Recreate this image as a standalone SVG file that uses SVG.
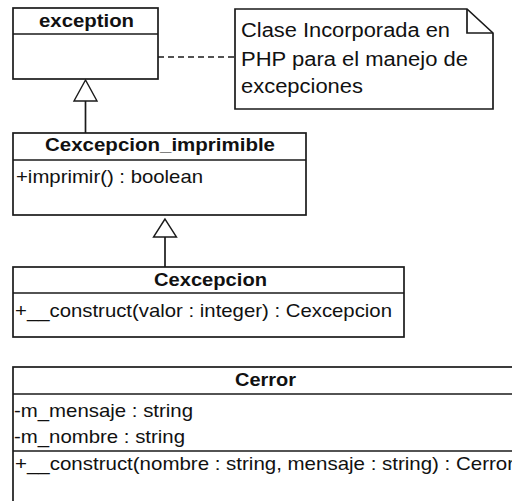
<svg xmlns="http://www.w3.org/2000/svg" width="512" height="501" viewBox="0 0 512 501">
  <style>
    .box { fill: #ffffff; stroke: #1a1a1a; stroke-width: 1.7; }
    .line { fill: none; stroke: #1a1a1a; stroke-width: 1.7; }
    .dash { fill: none; stroke: #1a1a1a; stroke-width: 1.4; stroke-dasharray: 6 4; }
    .head { fill: #ffffff; stroke: #1a1a1a; stroke-width: 1.4; }
    .title { font-family: "Liberation Sans", Arial, sans-serif; font-weight: bold; font-size: 19px; fill: #111; }
    .member { font-family: "Liberation Sans", Arial, sans-serif; font-size: 19px; fill: #111; }
    .note { font-family: "Liberation Sans", Arial, sans-serif; font-size: 19.5px; fill: #111; }
  </style>
  <rect width="512" height="501" fill="#ffffff"/>

  <!-- connectors: generalizations and note anchor -->
  <g id="connectors">
    <line class="dash" x1="158" y1="57" x2="235" y2="57"/>
    <line class="line" x1="85.5" y1="101" x2="85.5" y2="133"/>
    <polygon class="head" points="85.5,80 74,101 97,101"/>
    <line class="line" x1="165" y1="237" x2="165" y2="267"/>
    <polygon class="head" points="165,219 153.5,237 176.5,237"/>
  </g>

  <g id="exception">
    <rect class="box" x="13" y="8" width="145" height="71"/>
    <line class="line" x1="13" y1="34" x2="158" y2="34"/>
    <text class="title" x="39" y="27" textLength="95" lengthAdjust="spacingAndGlyphs">exception</text>
  </g>

  <g id="note">
    <path class="box" d="M235,9 H467 L493,33 V109 H235 Z"/>
    <path class="line" d="M467,9 V33 H493" stroke-width="1.4"/>
    <text class="note" x="241" y="37" textLength="209" lengthAdjust="spacingAndGlyphs">Clase Incorporada en</text>
    <text class="note" x="241" y="66" textLength="227" lengthAdjust="spacingAndGlyphs">PHP para el manejo de</text>
    <text class="note" x="241" y="93" textLength="122" lengthAdjust="spacingAndGlyphs">excepciones</text>
  </g>

  <g id="Cexcepcion_imprimible">
    <rect class="box" x="13" y="133" width="293" height="82"/>
    <line class="line" x1="13" y1="160" x2="306" y2="160"/>
    <text class="title" x="45" y="151" textLength="230" lengthAdjust="spacingAndGlyphs">Cexcepcion_imprimible</text>
    <text class="member" x="16" y="183" textLength="187" lengthAdjust="spacingAndGlyphs">+imprimir() : boolean</text>
  </g>

  <g id="Cexcepcion">
    <rect class="box" x="13" y="267" width="391" height="70"/>
    <line class="line" x1="13" y1="293" x2="404" y2="293"/>
    <text class="title" x="154" y="286" textLength="113" lengthAdjust="spacingAndGlyphs">Cexcepcion</text>
    <text class="member" x="15" y="317" textLength="377" lengthAdjust="spacingAndGlyphs">+__construct(valor : integer) : Cexcepcion</text>
  </g>

  <g id="Cerror">
    <rect class="box" x="13" y="367" width="510" height="150"/>
    <line class="line" x1="13" y1="394" x2="523" y2="394"/>
    <line class="line" x1="13" y1="451" x2="523" y2="451"/>
    <text class="title" x="235" y="386" textLength="61" lengthAdjust="spacingAndGlyphs">Cerror</text>
    <text class="member" x="14" y="417" textLength="179" lengthAdjust="spacingAndGlyphs">-m_mensaje : string</text>
    <text class="member" x="14" y="443" textLength="171" lengthAdjust="spacingAndGlyphs">-m_nombre : string</text>
    <text class="member" x="15" y="470" textLength="499" lengthAdjust="spacingAndGlyphs">+__construct(nombre : string, mensaje : string) : Cerror</text>
  </g>
</svg>
